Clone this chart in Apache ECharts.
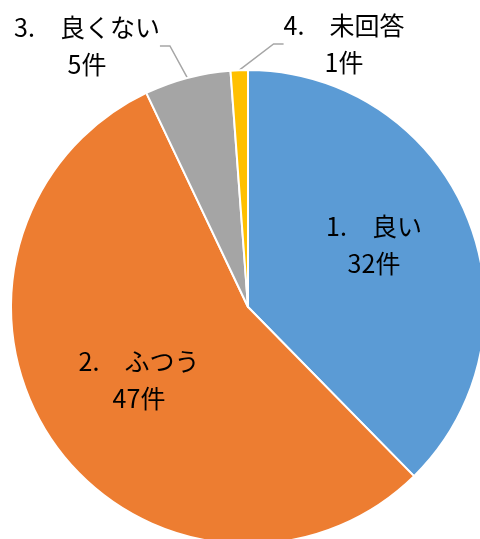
<!DOCTYPE html>
<html>
<head>
<meta charset="utf-8">
<script src="https://cdn.jsdelivr.net/npm/echarts@6/dist/echarts.min.js"></script>
<style>
  html, body { margin: 0; padding: 0; background: #ffffff; }
  #chart { width: 480px; height: 539px; }
</style>
</head>
<body>
<div id="chart"></div>
<script>
// ---- data ----
const categories = ['1.\u3000良い', '2.\u3000ふつう', '3.\u3000良くない', '4.\u3000未回答'];
const counts = [32, 47, 5, 1];
const unit = '件';
const colors = ['#5B9BD5', '#ED7D31', '#A5A5A5', '#FFC000'];
const outsideLabel = [false, false, true, true];

// ---- label placement (centre of each two-line label, px) ----
const labelPos = [[374, 245], [139, 380], [87, 46], [344, 44]];

const chart = echarts.init(document.getElementById('chart'), null, { renderer: 'canvas' });

const seriesData = categories.map((name, i) => ({
  name: name,
  value: counts[i],
  itemStyle: { color: colors[i] },
  label: { position: outsideLabel[i] ? 'outside' : 'inside' },
  labelLine: { show: outsideLabel[i] }
}));

chart.setOption({
  animation: false,
  series: [{
    type: 'pie',
    center: [248, 307],
    radius: [0, 237],
    startAngle: 90,
    clockwise: true,
    avoidLabelOverlap: false,
    itemStyle: { borderColor: '#ffffff', borderWidth: 2 },
    label: {
      show: true,
      formatter: p => p.name + '\n' + p.value + unit,
      fontFamily: '"Noto Sans CJK JP", "Noto Sans", sans-serif',
      fontSize: 25,
      lineHeight: 37,
      color: '#000000',
      align: 'center'
    },
    labelLine: {
      show: true,
      length: 38,
      length2: 10,
      lineStyle: { color: '#A6A6A6', width: 1.5 }
    },
    labelLayout: function (params) {
      const p = labelPos[params.dataIndex];
      return { x: p[0], y: p[1], align: 'center', verticalAlign: 'middle' };
    },
    data: seriesData
  }]
});
</script>
</body>
</html>
